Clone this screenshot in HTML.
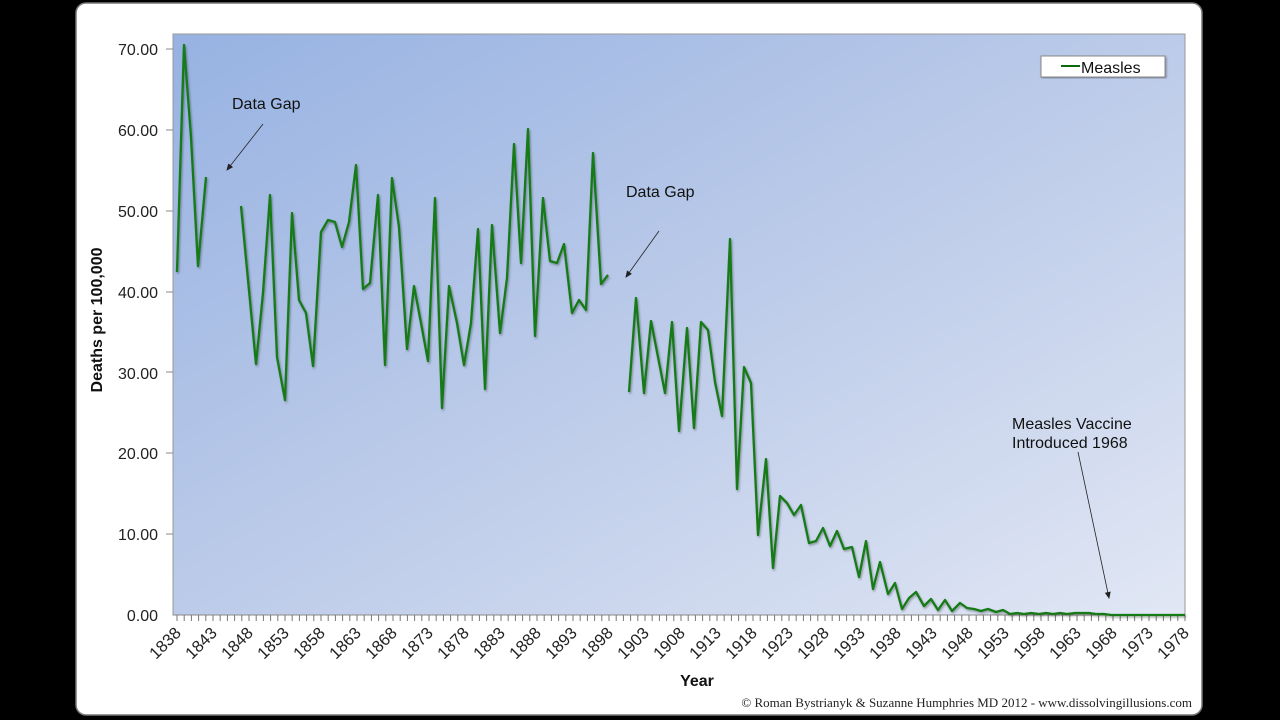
<!DOCTYPE html>
<html><head><meta charset="utf-8"><style>
html,body{margin:0;padding:0;background:#000;width:1280px;height:720px;overflow:hidden}
svg{display:block}
</style></head><body>
<svg width="1280" height="720" xmlns="http://www.w3.org/2000/svg" font-family="Liberation Sans, Arial, sans-serif">
<defs>
<linearGradient id="bg" x1="0" y1="0" x2="1" y2="1">
<stop offset="0" stop-color="#97b2e2"/>
<stop offset="0.5" stop-color="#bccbe9"/>
<stop offset="1" stop-color="#e1e7f4"/>
</linearGradient>
<filter id="sh" x="-5%" y="-5%" width="110%" height="110%"><feDropShadow dx="1" dy="1.5" stdDeviation="1" flood-color="#000" flood-opacity="0.35"/></filter>
<marker id="ar" markerWidth="8" markerHeight="8" refX="6" refY="4" orient="auto" markerUnits="userSpaceOnUse"><path d="M0,1 L7,4 L0,7 Z" fill="#222"/></marker>
</defs>
<rect x="0" y="0" width="1280" height="720" fill="#000"/>
<rect x="76" y="3" width="1126" height="712" rx="10" fill="#fff" stroke="#777" stroke-width="1.5"/>
<rect x="173" y="34" width="1012" height="581" fill="url(#bg)" stroke="#999" stroke-width="1"/>
<g font-size="16" fill="#222" text-anchor="end">
<text x="158" y="55">70.00</text><text x="158" y="136">60.00</text><text x="158" y="217">50.00</text>
<text x="158" y="298">40.00</text><text x="158" y="379">30.00</text><text x="158" y="459">20.00</text>
<text x="158" y="540">10.00</text><text x="158" y="621">0.00</text>
</g>
<g stroke="#888" stroke-width="1">
<line x1="166" y1="49" x2="173" y2="49"/><line x1="166" y1="130" x2="173" y2="130"/><line x1="166" y1="211" x2="173" y2="211"/><line x1="166" y1="292" x2="173" y2="292"/><line x1="166" y1="372" x2="173" y2="372"/><line x1="166" y1="453" x2="173" y2="453"/><line x1="166" y1="534" x2="173" y2="534"/>
<line x1="173" y1="615" x2="1185" y2="615"/>
</g>
<g id="ticks" stroke="#777" stroke-width="1"></g>
<g id="xl" font-size="16.5" fill="#222" text-anchor="end"></g>
<text transform="translate(102,320) rotate(-90)" font-size="16" font-weight="bold" text-anchor="middle" fill="#111">Deaths per 100,000</text>
<text x="697" y="686" font-size="16" font-weight="bold" text-anchor="middle" fill="#111">Year</text>
<text x="1192" y="707" font-size="13" text-anchor="end" font-family="Liberation Serif, serif" fill="#222">© Roman Bystrianyk &amp; Suzanne Humphries MD 2012 - www.dissolvingillusions.com</text>
<g filter="url(#sh)"><rect x="1041" y="56" width="124" height="21" fill="#fff" stroke="#888"/></g>
<line x1="1061" y1="66" x2="1080" y2="66" stroke="#0b6a0b" stroke-width="2"/>
<text x="1081" y="73" font-size="16" fill="#111">Measles</text>
<g font-size="16" fill="#111">
<text x="232" y="109">Data Gap</text>
<text x="626" y="197">Data Gap</text>
<text x="1012" y="429">Measles Vaccine</text>
<text x="1012" y="448">Introduced 1968</text>
</g>
<g stroke="#222" stroke-width="0.8" fill="none">
<line x1="263" y1="124" x2="227" y2="170" marker-end="url(#ar)"/>
<line x1="659" y1="231" x2="626" y2="277" marker-end="url(#ar)"/>
<line x1="1078" y1="452" x2="1109" y2="598" marker-end="url(#ar)"/>
</g>
<g fill="none" stroke="#137a13" stroke-width="2.3" stroke-linejoin="round" filter="url(#sh)">
<polyline points="177,272 184,45 191,137 198,266 206,177"/>
<polyline points="241,206 256,364 263,293 270,195 277,357 285,400 292,213 299,300 306,313 313,366 321,232 328,220 335,222 342,247 349,222 356,165 363,289 370,283 378,195 385,365 392,178 399,227 407,349 414,286 421,323 428,361 435,198 442,408 449,286 457,323 464,365 471,323 478,229 485,389 492,225 500,333 507,278 514,144 521,263 528,129 535,336 543,198 550,261 557,263 564,244 572,313 579,300 586,310 593,153 601,284 608,275"/>
<polyline points="629,392 636,298 644,393 651,321 658,357 665,393 672,322 679,431 687,328 694,428 701,322 708,330 715,382 722,416 730,239 737,489 744,367 751,383 758,535 766,459 773,568 780,496 787,503 794,515 801,505 809,543 816,541 823,528 830,546 837,531 844,549 852,547 859,577 866,541 873,589 880,562 888,594 895,583 902,609 909,598 916,592 924,606 931,599 938,610 945,600 952,611 960,603 967,608 974,609 981,611 988,609 996,612 1003,610 1010,614 1017,613 1024,614 1031,613 1039,614 1046,613 1053,614 1060,613 1067,614 1075,613 1082,613 1089,613 1096,614 1104,614 1111,615 1185,615"/>
</g>
<script>
var t=document.getElementById('ticks'),xl=document.getElementById('xl'),ns='http://www.w3.org/2000/svg';
for(var i=0;i<=140;i++){var x=177+i*7.2;var l=document.createElementNS(ns,'line');l.setAttribute('x1',x);l.setAttribute('x2',x);l.setAttribute('y1',615);l.setAttribute('y2',621);t.appendChild(l);
if(i%5==0){var tx=document.createElementNS(ns,'text');tx.setAttribute('transform','translate('+(x+5)+',634) rotate(-45)');tx.textContent=1838+i;xl.appendChild(tx);}}
</script>
</svg>
</body></html>
